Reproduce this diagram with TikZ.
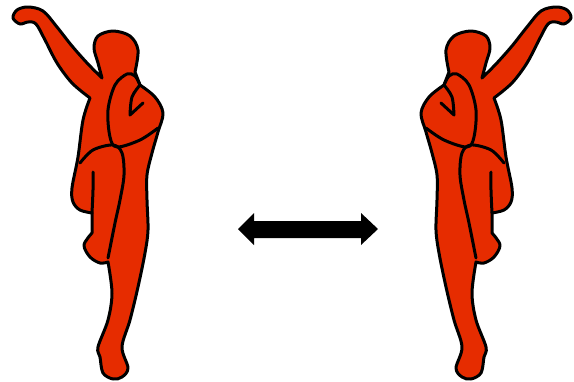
\documentclass[tikz,border=0pt]{standalone}
\usepackage{tikz}
\definecolor{bodyred}{HTML}{E62C00}
\tikzset{
  outline/.style={draw=black, line width=3pt, line join=round, line cap=round},
  dancer/.pic={
    % Body
    \path[outline, fill=bodyred]
      plot[smooth, tension=0.55] coordinates {(102,78) (98,63) (94,48) (98,36) (113,31) (130,36) (138,50) (135,72)}
      -- (140,85)
      -- plot[smooth, tension=0.55] coordinates {(140,85) (155,97) (163,113) (158,132) (152,153) (147,175) (147,200) (148,230) (145,253) (138,287) (130,320) (122,347) (128,368) (122,377) (113,379) (103,373) (100,357) (98,347) (108,320) (112,293) (108,262)}
      -- plot[smooth, tension=0.55] coordinates {(108,262) (100,263) (90,257) (84,245) (92,233)}
      -- plot[smooth, tension=0.55] coordinates {(92,233) (92,213)}
      -- plot[smooth, tension=0.55] coordinates {(92,213) (80,210) (73,202) (72,188) (78,157) (83,120) (90,98)}
      -- plot[smooth, tension=0.55] coordinates {(90,98) (72,83) (57,63) (45,40) (36,24) (28,22) (20,24) (13,18) (17,10) (28,7) (43,11) (57,27) (72,46) (88,64) (102,78)}
      -- cycle;
    % Folded arm
    \draw[outline] plot[smooth, tension=0.55] coordinates {(140,85) (135,76) (127,74) (115,85) (108,110) (110,137) (117,147) (140,140) (158,128)};
    \draw[outline] plot[smooth, tension=0.55] coordinates {(140,85) (132,97) (130,115)} -- (143,103);
    % Raised leg
    \draw[outline] plot[smooth, tension=0.55] coordinates {(80,163) (93,150) (113,145) (122,153) (124,175) (120,200) (115,223) (108,258)};
    \draw[outline] plot[smooth, tension=0.55] coordinates {(93,172) (93,190) (92,213)};
  }
}
\begin{document}
\begin{tikzpicture}[x=1pt, y=-1pt]
  \useasboundingbox (0,0) rectangle (574,381);
  % Figures
  \pic at (0,0) {dancer};
  \pic[xscale=-1] at (584,0) {dancer};
  % Double arrow
  \fill[black] (238,229) -- (254,213) -- (254,221) -- (361,221) -- (361,213) -- (378,229) -- (361,245) -- (361,238) -- (254,238) -- (254,245) -- cycle;
\end{tikzpicture}
\end{document}
